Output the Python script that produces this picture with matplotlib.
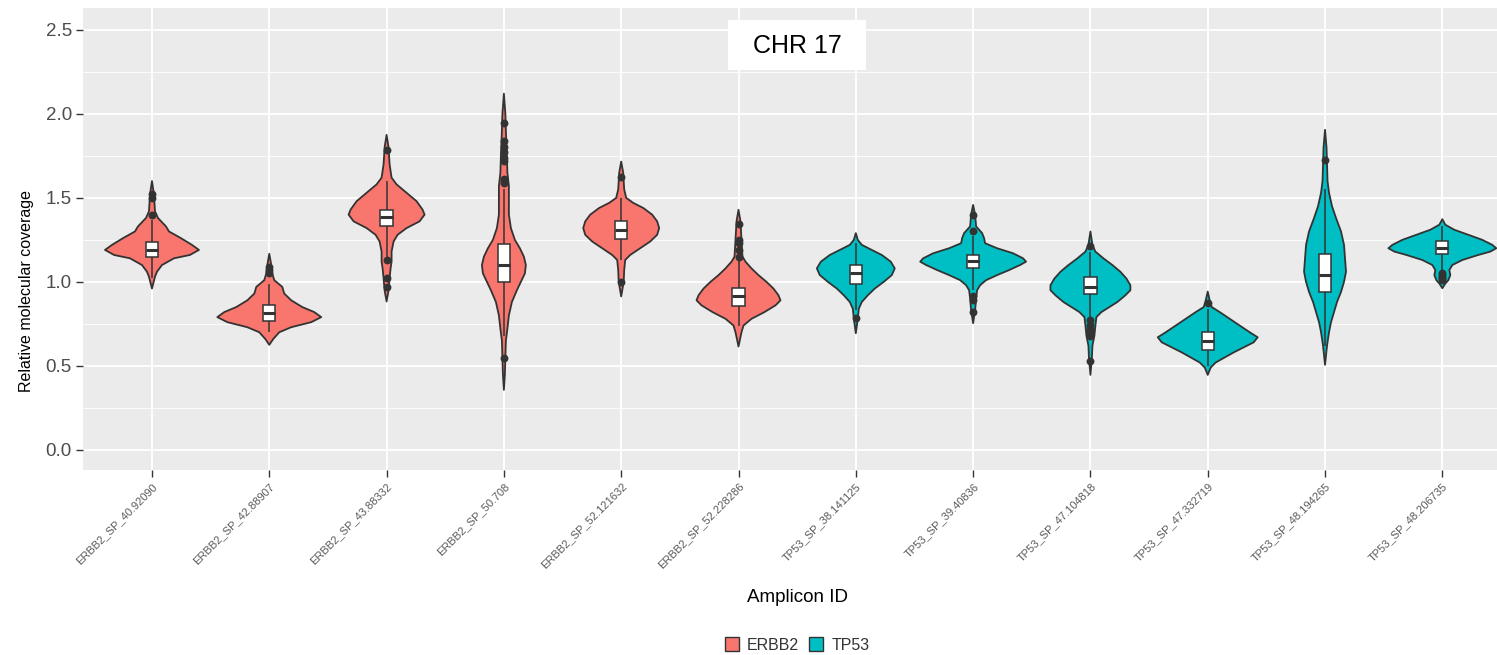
import matplotlib
matplotlib.use("Agg")
import matplotlib.pyplot as plt
from matplotlib.patches import Rectangle, Patch

plt.rcParams['font.family'] = ['Liberation Sans', 'DejaVu Sans']

# amplicons on chromosome 17
amplicons = ["ERBB2_SP_40.92090", "ERBB2_SP_42.88907", "ERBB2_SP_43.88332",
             "ERBB2_SP_50.708", "ERBB2_SP_52.121632", "ERBB2_SP_52.228286",
             "TP53_SP_38.141125", "TP53_SP_39.40836", "TP53_SP_47.104818",
             "TP53_SP_47.332719", "TP53_SP_48.194265", "TP53_SP_48.206735"]
genes = ["ERBB2"] * 6 + ["TP53"] * 6

# violin outlines: coverage levels and relative density at each level
dens_y = [
    [1.60, 1.52, 1.42, 1.38, 1.33, 1.30, 1.26, 1.22, 1.19, 1.16, 1.14, 1.10, 1.06, 1.03, 0.96],
    [1.167, 1.10, 1.05, 1.01, 0.97, 0.93, 0.89, 0.85, 0.82, 0.79, 0.76, 0.73, 0.70, 0.66, 0.625],
    [1.875, 1.80, 1.70, 1.62, 1.58, 1.53, 1.48, 1.43, 1.40, 1.36, 1.32, 1.28, 1.24, 1.18, 1.12,
     1.08, 1.02, 0.95, 0.883],
    [2.12, 2.00, 1.90, 1.75, 1.65, 1.57, 1.48, 1.40, 1.32, 1.25, 1.20, 1.15, 1.10, 1.05, 1.00,
     0.95, 0.88, 0.80, 0.72, 0.65, 0.55, 0.45, 0.357],
    [1.716, 1.65, 1.55, 1.50, 1.47, 1.44, 1.40, 1.36, 1.32, 1.28, 1.24, 1.20, 1.16, 1.13, 1.07,
     1.00, 0.913],
    [1.429, 1.36, 1.25, 1.15, 1.12, 1.08, 1.04, 1.00, 0.96, 0.92, 0.89, 0.86, 0.82, 0.78, 0.74,
     0.70, 0.615],
    [1.29, 1.25, 1.22, 1.19, 1.16, 1.12, 1.08, 1.04, 1.00, 0.96, 0.92, 0.88, 0.84, 0.78, 0.694],
    [1.458, 1.40, 1.33, 1.29, 1.26, 1.23, 1.20, 1.17, 1.14, 1.12, 1.10, 1.07, 1.04, 1.01, 0.98,
     0.95, 0.90, 0.83, 0.754],
    [1.30, 1.22, 1.18, 1.14, 1.10, 1.06, 1.02, 0.98, 0.95, 0.92, 0.88, 0.85, 0.82, 0.79, 0.74,
     0.68, 0.62, 0.55, 0.446],
    [0.942, 0.89, 0.85, 0.82, 0.78, 0.74, 0.70, 0.67, 0.64, 0.61, 0.58, 0.55, 0.52, 0.49, 0.446],
    [1.905, 1.80, 1.70, 1.60, 1.53, 1.45, 1.38, 1.30, 1.22, 1.14, 1.06, 1.00, 0.94, 0.88, 0.82,
     0.76, 0.70, 0.62, 0.506],
    [1.373, 1.34, 1.31, 1.28, 1.25, 1.22, 1.20, 1.18, 1.16, 1.13, 1.10, 1.07, 1.04, 1.01, 0.99,
     0.962],
]
dens_w = [
    [0, 2, 3, 6, 14, 17, 29, 40, 47, 38, 22, 10, 5, 3, 0],
    [0, 2, 3, 5, 13, 15, 22, 33, 45, 52, 42, 22, 10, 4, 0],
    [0, 2, 3, 5, 10, 20, 30, 36, 38, 33, 20, 11, 7, 5, 5, 4, 3, 2, 0],
    [0, 1.5, 2, 3, 3.5, 5, 5, 5, 7, 11, 16, 20, 22, 21, 17, 13, 8, 5, 3.5, 2, 1.5, 1, 0],
    [0, 2, 3, 5, 12, 22, 31, 36, 38, 36, 29, 19, 9, 4, 3, 2.5, 0],
    [0, 2, 3, 4, 7, 13, 20, 28, 35, 40, 42, 37, 26, 13, 5, 3, 0],
    [0, 2, 6, 16, 26, 35, 39, 36, 28, 19, 12, 6, 3, 2, 0],
    [0, 2, 3, 9, 11, 12, 24, 40, 50, 53, 47, 36, 24, 13, 7, 4, 3, 2, 0],
    [0, 2, 5, 13, 22, 30, 36, 40, 40, 35, 27, 19, 11, 6, 5, 4, 2, 1.5, 0],
    [0, 2, 4, 12, 22, 32, 42, 50, 46, 36, 26, 17, 8, 3, 0],
    [0, 1.5, 2, 2.5, 4, 7, 11, 16, 19, 20, 21, 19, 16, 12, 9, 6, 4, 2, 0],
    [0, 3, 12, 26, 40, 50, 54, 48, 36, 20, 10, 7, 8, 6, 3, 0],
]

# boxplot summaries
q1 = [1.15, 0.765, 1.33, 1.00, 1.255, 0.855, 0.99, 1.08, 0.925, 0.597, 0.937, 1.165]
med = [1.19, 0.815, 1.385, 1.10, 1.31, 0.913, 1.055, 1.125, 0.97, 0.649, 1.04, 1.204]
q3 = [1.24, 0.86, 1.43, 1.225, 1.365, 0.962, 1.10, 1.16, 1.03, 0.70, 1.167, 1.244]
whisk_lo = [1.02, 0.70, 1.15, 0.68, 1.13, 0.74, 0.83, 0.95, 0.79, 0.50, 0.62, 1.06]
whisk_hi = [1.37, 0.99, 1.60, 1.55, 1.50, 1.13, 1.23, 1.27, 1.18, 0.84, 1.55, 1.33]
outliers = [
    [1.40, 1.50, 1.52],
    [1.05, 1.07, 1.09],
    [1.786, 1.13, 1.02, 0.97],
    [1.944, 1.84, 1.80, 1.77, 1.74, 1.72, 1.61, 1.60, 1.59, 0.546],
    [1.627, 1.002],
    [1.345, 1.25, 1.23, 1.19, 1.15],
    [0.784],
    [1.399, 1.30, 0.913, 0.893, 0.823],
    [1.214, 0.77, 0.745, 0.72, 0.70, 0.675, 0.526],
    [0.873],
    [1.726],
    [1.05, 1.04, 1.03, 1.02, 1.01],
]

gene_colors = {"ERBB2": "#F8766D", "TP53": "#00BFC4"}
dark = "#333333"

fig = plt.figure(figsize=(14.97, 6.55), dpi=100)
ax = fig.add_axes([83 / 1497, 185 / 655, 1 - 83 / 1497, 462 / 655])
ax.set_facecolor("#EBEBEB")
for s in ax.spines.values():
    s.set_visible(False)

max_d = max(max(w) for w in dens_w)
box_w = 0.105
for i in range(len(amplicons)):
    ys = dens_y[i]
    hw = [0.46 * d / max_d for d in dens_w[i]]
    xs = [i - h for h in hw] + [i + h for h in hw[::-1]]
    yy = list(ys) + list(ys[::-1])
    ax.fill(xs, yy, facecolor=gene_colors[genes[i]], edgecolor=dark,
            linewidth=1.3, joinstyle="round", zorder=3)
    ax.vlines(i, whisk_lo[i], q1[i], color=dark, linewidth=1.1, zorder=4)
    ax.vlines(i, q3[i], whisk_hi[i], color=dark, linewidth=1.1, zorder=4)
    ax.add_patch(Rectangle((i - box_w / 2, q1[i]), box_w, q3[i] - q1[i],
                           facecolor="white", edgecolor=dark, linewidth=1.1, zorder=5))
    ax.hlines(med[i], i - box_w / 2, i + box_w / 2, color=dark, linewidth=2.2, zorder=6)
    ax.scatter([i] * len(outliers[i]), outliers[i], s=32, color=dark,
               linewidths=0, zorder=7)

ax.set_xlim(-0.588, 11.466)
ax.set_ylim(-0.12, 2.63)
ax.set_yticks([0.0, 0.5, 1.0, 1.5, 2.0, 2.5])
ax.set_yticklabels(["0.0", "0.5", "1.0", "1.5", "2.0", "2.5"])
ax.set_yticks([0.25, 0.75, 1.25, 1.75, 2.25], minor=True)
ax.set_xticks(range(len(amplicons)))
ax.set_xticklabels(amplicons, rotation=45, ha="right", va="top",
                   rotation_mode="anchor", fontsize=8, color="#5A5A5A")
ax.tick_params(axis="y", labelsize=13.5, labelcolor="#4D4D4D", length=5,
               width=1, color=dark, pad=3)
ax.tick_params(axis="x", length=5, width=1, color=dark, pad=3)
ax.tick_params(axis="y", which="minor", length=0)
ax.grid(True, which="major", color="white", linewidth=1.3, zorder=0)
ax.grid(True, which="minor", axis="y", color="white", linewidth=0.6, zorder=0)
ax.set_axisbelow(True)

fig.text(27 / 1497, 1 - 291 / 655, "Relative molecular coverage", rotation=90,
         ha="center", va="center", fontsize=11.5, color="black")
fig.text(797 / 1497, 1 - 597 / 655, "Amplicon ID", ha="center", va="center",
         fontsize=13.5, color="black")

# chromosome label box
fig.patches.append(Rectangle((728 / 1497, 1 - 70 / 655), 138 / 1497, 50 / 655,
                             transform=fig.transFigure, facecolor="white",
                             edgecolor="none", zorder=10))
fig.text(797 / 1497, 1 - 46 / 655, "CHR 17", ha="center", va="center",
         fontsize=18, color="black", zorder=11)

handles = [Patch(facecolor=gene_colors[g], edgecolor=dark, linewidth=1.0)
           for g in ["ERBB2", "TP53"]]
fig.legend(handles, ["ERBB2", "TP53"], loc="center", ncol=2,
           bbox_to_anchor=(797 / 1497, 1 - 645 / 655), frameon=False,
           fontsize=11.5, handlelength=0.9, handleheight=0.9, handletextpad=0.5,
           columnspacing=0.6, labelcolor="#333333")

fig.savefig("out.png", dpi=100)
